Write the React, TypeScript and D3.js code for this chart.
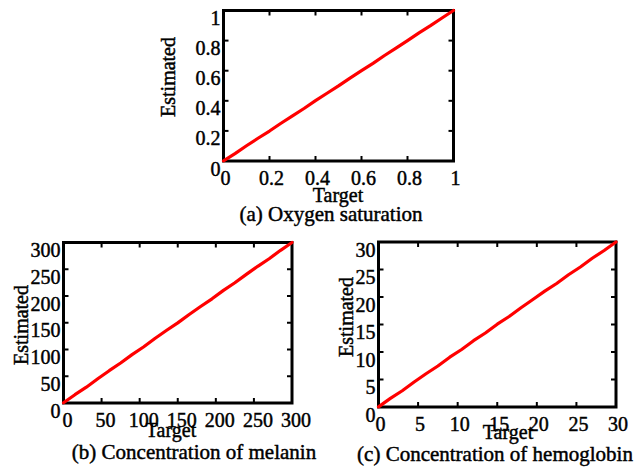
import React from "react";
import * as d3 from "d3";

// ---- data ----
const targetA = [0, 0.05, 0.1, 0.15, 0.2, 0.25, 0.3, 0.35, 0.4, 0.45, 0.5, 0.55, 0.6, 0.65, 0.7, 0.75, 0.8, 0.85, 0.9, 0.95, 1];
const estimatedA = [0.001, 0.049, 0.101, 0.151, 0.199, 0.251, 0.3, 0.349, 0.401, 0.45, 0.499, 0.551, 0.6, 0.649, 0.701, 0.75, 0.8, 0.851, 0.899, 0.95, 1.0];
const ticksA = [0, 0.2, 0.4, 0.6, 0.8, 1];

const targetB = [0, 15, 30, 45, 60, 75, 90, 105, 120, 135, 150, 165, 180, 195, 210, 225, 240, 255, 270, 285, 300];
const estimatedB = [0.5, 15.5, 29.6, 45.4, 60.4, 74.7, 90.4, 104.7, 120.5, 135.4, 149.7, 165.5, 180.4, 194.7, 210.5, 224.7, 240.4, 255.5, 269.7, 285.4, 300];
const ticksB = [0, 50, 100, 150, 200, 250, 300];

const targetC = [0, 1.5, 3, 4.5, 6, 7.5, 9, 10.5, 12, 13.5, 15, 16.5, 18, 19.5, 21, 22.5, 24, 25.5, 27, 28.5, 30];
const estimatedC = [0.03, 1.56, 2.96, 4.55, 6.05, 7.46, 9.06, 10.46, 12.06, 13.45, 15.06, 16.46, 18.05, 19.54, 21.06, 22.46, 24.05, 25.46, 27.04, 28.46, 30];
const ticksC = [0, 5, 10, 15, 20, 25, 30];

const captions = ["(a) Oxygen saturation", "(b) Concentration of melanin", "(c) Concentration of hemoglobin"];

const FONT = '"Liberation Serif", "DejaVu Serif", "Times New Roman", serif';

type PanelProps = {
  x0: number; x1: number; y0: number; y1: number;
  max: number; ticks: number[]; target: number[]; estimated: number[];
  caption: string;
  xLabDx: number;
  yTitle: [number, number]; xTitle: [number, number]; cap: [number, number];
};

function Panel(p: PanelProps) {
  const xs = d3.scaleLinear().domain([0, p.max]).range([p.x0, p.x1]);
  const ys = d3.scaleLinear().domain([0, p.max]).range([p.y1, p.y0]);
  const pts = p.target.map((t, i) => [t, p.estimated[i]] as [number, number]);
  const line = d3.line<[number, number]>().x(d => xs(d[0])).y(d => ys(d[1]));
  const fmt = (v: number) => String(v);
  const tl = 5;
  return (
    <g>
      {p.ticks.map((t, i) => (
        <g key={"t" + i} stroke="#000" strokeWidth={2}>
          <line x1={xs(t)} x2={xs(t)} y1={p.y1} y2={p.y1 - tl} />
          <line x1={xs(t)} x2={xs(t)} y1={p.y0} y2={p.y0 + tl} />
          <line x1={p.x0} x2={p.x0 + tl} y1={ys(t)} y2={ys(t)} />
          <line x1={p.x1} x2={p.x1 - tl} y1={ys(t)} y2={ys(t)} />
        </g>
      ))}
      <rect x={p.x0} y={p.y0} width={p.x1 - p.x0} height={p.y1 - p.y0} fill="none" stroke="#000" strokeWidth={3} />
      <path d={line(pts) || ""} fill="none" stroke="#ff0000" strokeWidth={3.2} strokeLinejoin="round" strokeLinecap="round" />
      <g style={{ fontFamily: FONT, fontSize: "20px" }} fill="#000" stroke="#000" strokeWidth={0.45}>
        {p.ticks.map((t, i) => (
          <text key={"xl" + i} x={xs(t) + p.xLabDx} y={p.y1 + 23.5} textAnchor="middle">{fmt(t)}</text>
        ))}
        {p.ticks.map((t, i) => (
          <text key={"yl" + i} x={p.x0 - 3} y={ys(t) + 14.5} textAnchor="end">{fmt(t)}</text>
        ))}
        <text transform={`translate(${p.yTitle[0]},${p.yTitle[1]}) rotate(-90)`} textAnchor="middle">Estimated</text>
        <text x={p.xTitle[0]} y={p.xTitle[1]} textAnchor="middle">Target</text>
        <text x={p.cap[0]} y={p.cap[1]} textAnchor="middle" style={{ fontSize: "21px" }}>{p.caption}</text>
      </g>
    </g>
  );
}

export default function App() {
  return (
    <svg width={637} height={470} style={{ position: "absolute", left: 0, top: 0, background: "#fff" }}>
      <rect width={637} height={470} fill="#fff" />
      <Panel x0={223.5} x1={453.5} y0={10.5} y1={161} max={1} ticks={ticksA}
        target={targetA} estimated={estimatedA} caption={captions[0]} xLabDx={2}
        yTitle={[175, 77]} xTitle={[338, 202]} cap={[331, 221]} />
      <Panel x0={63.5} x1={292} y0={242.5} y1={403} max={300} ticks={ticksB}
        target={targetB} estimated={estimatedB} caption={captions[1]} xLabDx={4}
        yTitle={[28, 325]} xTitle={[171, 437]} cap={[194, 459]} />
      <Panel x0={378.5} x1={616} y0={242} y1={407} max={30} ticks={ticksC}
        target={targetC} estimated={estimatedC} caption={captions[2]} xLabDx={2}
        yTitle={[353, 317]} xTitle={[508, 439]} cap={[495, 461]} />
    </svg>
  );
}
